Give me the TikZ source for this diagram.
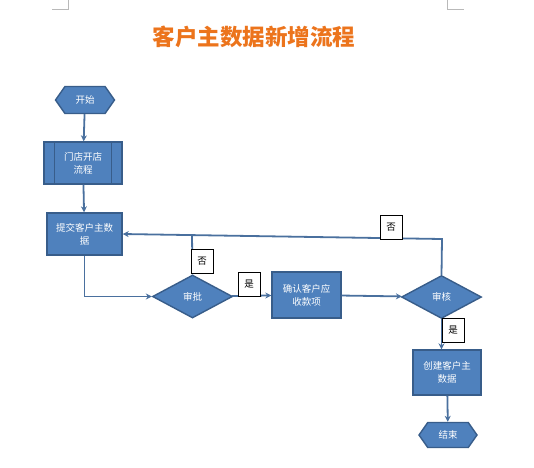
\documentclass[tikz,border=0pt]{standalone}
\usepackage{fontspec}
\setmainfont{Noto Sans CJK SC}
\usetikzlibrary{shapes.geometric,shapes.symbols,arrows.meta,positioning}
\definecolor{fillb}{RGB}{79,129,189}
\definecolor{edgeb}{RGB}{56,93,138}
\definecolor{lineb}{RGB}{74,112,158}
\definecolor{ttl}{RGB}{236,116,28}
\newcommand{\nodefont}{\fontsize{9.5}{13}\selectfont}
\tikzset{
  term/.style={signal,signal to=west and east,signal pointer angle=110,draw=edgeb,fill=fillb,line width=1.4pt,text=white,font=\nodefont,minimum width=59pt,minimum height=27pt,inner sep=1pt},
  proc/.style={draw=edgeb,fill=fillb,line width=1.4pt,text=white,align=center,font=\nodefont,inner sep=2pt},
  dec/.style={diamond,aspect=1.86,draw=edgeb,fill=fillb,line width=1.4pt,text=white,font=\nodefont,minimum width=80pt,minimum height=43pt,inner sep=0pt},
  lbl/.style={draw,fill=white,font=\nodefont,minimum width=22pt,minimum height=24pt,inner sep=0pt},
  arr/.style={-{Stealth[length=6pt,width=6pt]},draw=lineb,line width=1.8pt},
  lin/.style={draw=lineb,line width=1.8pt}
}

\begin{document}
\begin{tikzpicture}[x=1pt,y=-1pt]
\useasboundingbox (0,0) rectangle (534,467);
% page corner marks
\draw[gray!55] (52,9) -- (68,9) -- (68,0);
\draw[gray!55] (447,0) -- (447,9) -- (464,9);
\node[font=\fontsize{22.5}{22.5}\selectfont\bfseries,text=ttl] (title) at (254,37) {客户主数据新增流程};
% flow
\node[term] (start) at (85,100) {开始};
\node[proc,minimum width=78pt,minimum height=42pt] (mdkd) at (83,163) {门店开店\\流程};
\draw[draw=edgeb,line width=1.4pt] ([xshift=11pt]mdkd.north west) -- ([xshift=11pt]mdkd.south west);
\draw[draw=edgeb,line width=1.4pt] ([xshift=-11pt]mdkd.north east) -- ([xshift=-11pt]mdkd.south east);
\node[proc,minimum width=75pt,minimum height=42pt] (tjsj) at (84.5,234) {提交客户主数\\据};
\node[dec] (spi) at (192.5,296.5) {审批};
\node[proc,minimum width=69pt,minimum height=46pt] (qrys) at (306.5,295) {确认客户应\\收款项};
\node[dec] (shh) at (441.5,297) {审核};
\node[proc,minimum width=68pt,minimum height=45pt] (cjsj) at (447,372.5) {创建客户主\\数据};
\node[term,minimum width=58pt,minimum height=25pt] (end) at (448,435) {结束};
\coordinate (fb) at (442,239);
\coordinate (sj) at (192,235.5);
\draw[arr] (start) -- (mdkd);
\draw[arr] (mdkd) -- (tjsj);
\draw[arr] (tjsj.south) |- (spi.west);
\draw[arr] (spi) -- (qrys);
\draw[arr] (qrys) -- (shh);
\draw[arr] (shh.north) -- (fb) -- (tjsj.east);
\draw[lin] (spi.north) -- (sj);
\draw[arr] (shh.south) -- (shh.south |- cjsj.north);
\draw[arr] (cjsj) -- (end);
% yes / no labels
\node[lbl] (no1) at (202,261) {否};
\node[lbl] (yes1) at (249,284.5) {是};
\node[lbl] (no2) at (391,227) {否};
\node[lbl] (yes2) at (453,330) {是};
\end{tikzpicture}
\end{document}
